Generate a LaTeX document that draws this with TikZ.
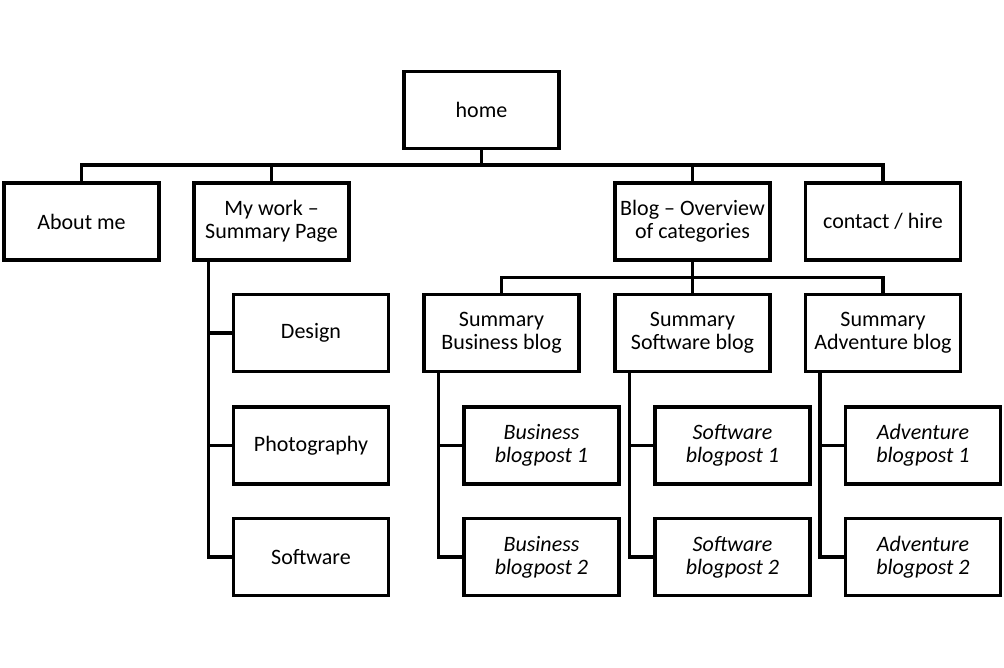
\documentclass[tikz,border=0pt]{standalone}
\usepackage{fontspec}
\setmainfont{Carlito}

\begin{document}
\begin{tikzpicture}[x=1pt,y=1pt,yscale=-1,xscale=1,
  page/.style={draw,line width=3.5pt,minimum width=155pt,minimum height=77pt,inner sep=1pt,align=center,font=\fontsize{22}{23}\selectfont},
  post/.style={page,font=\fontsize{22}{23}\selectfont\itshape},
  link/.style={line width=3.5pt}]
\useasboundingbox (0,0) rectangle (1004,667);

%Shape: Rectangle [home]
\node [page] (home) at (481.5,110) {home};

%Shape: Rectangle [top level]
\node [page] (about) at (81.5,221.5) {About me};
\node [page] (mywork) at (271.5,221.5) {My work --\\Summary Page};
\node [page] (blog) at (692.5,221.5) {Blog -- Overview\\of categories};
\node [page] (contact) at (883,221.5) {contact / hire};

%Shape: Rectangle [my work pages]
\node [page] (design) at (311,333) {Design};
\node [page] (photo) at (311,445.5) {Photography};
\node [page] (software) at (311,557) {Software};

%Shape: Rectangle [blog summaries]
\node [page] (sumbusiness) at (501.5,333) {Summary\\Business blog};
\node [page] (sumsoftware) at (692.5,333) {Summary\\Software blog};
\node [page] (sumadventure) at (883,333) {Summary\\Adventure blog};

%Shape: Rectangle [blogposts]
\node [post] (business1) at (541.5,445.5) {Business\\blogpost 1};
\node [post] (business2) at (541.5,557) {Business\\blogpost 2};
\node [post] (software1) at (732.5,445.5) {Software\\blogpost 1};
\node [post] (software2) at (732.5,557) {Software\\blogpost 2};
\node [post] (adventure1) at (923,445.5) {Adventure\\blogpost 1};
\node [post] (adventure2) at (923,557) {Adventure\\blogpost 2};

%Connector: home to top level
\coordinate (topbar) at (481.5,165);
\draw [link] (home.south) -- (topbar);
\draw [link] (about.north) |- (topbar) -| (contact.north);
\draw [link] (mywork.north) -- (mywork.north |- topbar);
\draw [link] (blog.north) -- (blog.north |- topbar);

%Connector: blog to summaries
\coordinate (blogbar) at (692.5,277.5);
\draw [link] (blog.south) -- (blogbar);
\draw [link] (sumbusiness.north) |- (blogbar) -| (sumadventure.north);
\draw [link] (sumsoftware.north) -- (sumsoftware.north |- blogbar);

%Connector: spines
\coordinate (workspine) at ([xshift=16]mywork.south west);
\draw [link] (workspine) |- (software.west);
\draw [link] (design.west) -- (design.west -| workspine);
\draw [link] (photo.west) -- (photo.west -| workspine);

\coordinate (businessspine) at ([xshift=16]sumbusiness.south west);
\draw [link] (businessspine) |- (business2.west);
\draw [link] (business1.west) -- (business1.west -| businessspine);
\coordinate (softwarespine) at ([xshift=16]sumsoftware.south west);
\draw [link] (softwarespine) |- (software2.west);
\draw [link] (software1.west) -- (software1.west -| softwarespine);
\coordinate (adventurespine) at ([xshift=16]sumadventure.south west);
\draw [link] (adventurespine) |- (adventure2.west);
\draw [link] (adventure1.west) -- (adventure1.west -| adventurespine);

\end{tikzpicture}
\end{document}
